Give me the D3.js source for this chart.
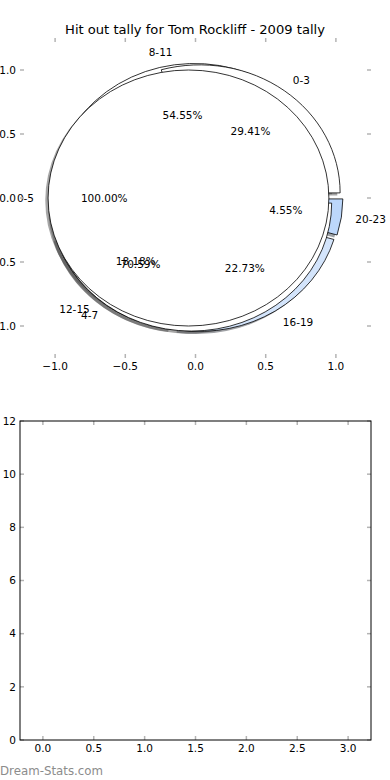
<!DOCTYPE html>
<html><head><meta charset="utf-8">
<script src="https://cdn.jsdelivr.net/npm/d3@7"></script>
<style>
body{margin:0;background:#fff;}
svg{display:block;font-family:"DejaVu Sans",sans-serif;}
</style></head><body>
<script>
// ---- data ----
const titleText = "Hit out tally for Tom Rockliff - 2009 tally";
// three pies overlaid on the same axes (drawn in this order: C, B, A)
const pieCLabels = ["8-11", "12-15", "16-19", "20-23"];
const pieCValues = [12, 4, 5, 1];
const pieCColors = ["#ffffff", "#ffffff", "#d3e4fb", "#bcd7fb"];
const pieBLabels = ["0-3", "4-7"];
const pieBValues = [5, 12];
const pieBColors = ["#ffffff", "#ffffff"];
const pieALabels = ["0-5"];
const pieAValues = [1];
const pieAColors = ["#ffffff"];
const explodeAmount = 0.05;
const pieTicks = [-1.0, -0.5, 0.0, 0.5, 1.0];
const barCats = [0, 1, 2, 3];
const barValues = [0, 0, 0, 0];
const barXTicks = [0, 0.5, 1, 1.5, 2, 2.5, 3];
const barYTicks = [0, 2, 4, 6, 8, 10, 12];

const W = 390, H = 780;
const svg = d3.select("body").append("svg").attr("width", W).attr("height", H);

const L = 20, R = 371;
// top axes
const xP = d3.scaleLinear().domain([-1.25, 1.25]).range([L, R]);
const yP = d3.scaleLinear().domain([-1.25, 1.25]).range([358, 38]);
const kx = xP(1) - xP(0), ky = yP(0) - yP(1);

svg.append("text").attr("x", 195).attr("y", 34).attr("text-anchor", "middle")
  .attr("font-size", 13.1).attr("fill", "#000").text(titleText);

const pies = [
  {labels: pieCLabels, values: pieCValues, colors: pieCColors},
  {labels: pieBLabels, values: pieBValues, colors: pieBColors},
  {labels: pieALabels, values: pieAValues, colors: pieAColors}
];
const arc = d3.arc().innerRadius(0).outerRadius(1);
const fmt = d3.format(".2f");
const wedges = [];
pies.forEach(p => {
  const total = d3.sum(p.values);
  let th = 0;
  p.values.forEach((v, i) => {
    const t1 = th, t2 = th + 2 * Math.PI * v / total;
    th = t2;
    const tm = (t1 + t2) / 2;
    const cx = explodeAmount * Math.cos(tm), cy = explodeAmount * Math.sin(tm);
    wedges.push({t1, t2, tm, cx, cy, color: p.colors[i], label: p.labels[i], pct: fmt(100 * v / total) + "%"});
  });
});
const gS = svg.append("g"), gW = svg.append("g"), gT = svg.append("g");
const d3arcPath = w => arc({startAngle: Math.PI / 2 - w.t2, endAngle: Math.PI / 2 - w.t1});
// shadows
wedges.forEach(w => {
  const c = d3.rgb(w.color);
  gS.append("path").attr("d", d3arcPath(w))
    .attr("transform", `translate(${xP(w.cx - 0.02)},${yP(w.cy - 0.02)}) scale(${kx},${ky})`)
    .attr("fill", d3.rgb(c.r * 0.3, c.g * 0.3, c.b * 0.3)).attr("fill-opacity", 0.5).attr("stroke", "none");
});
// wedges
wedges.forEach(w => {
  gW.append("path").attr("d", d3arcPath(w))
    .attr("transform", `translate(${xP(w.cx)},${yP(w.cy)}) scale(${kx},${ky})`)
    .attr("fill", w.color).attr("stroke", "#000").attr("stroke-width", 0.8)
    .attr("vector-effect", "non-scaling-stroke").attr("stroke-linejoin", "round");
});
// labels
wedges.forEach(w => {
  const lx = w.cx + 1.1 * Math.cos(w.tm), ly = w.cy + 1.1 * Math.sin(w.tm);
  gT.append("text").attr("x", xP(lx)).attr("y", yP(ly)).attr("dy", "0.35em")
    .attr("text-anchor", lx > 0 ? "start" : "end").attr("font-size", 10.5).text(w.label);
  const px = w.cx + 0.6 * Math.cos(w.tm), py = w.cy + 0.6 * Math.sin(w.tm);
  gT.append("text").attr("x", xP(px)).attr("y", yP(py)).attr("dy", "0.35em")
    .attr("text-anchor", "middle").attr("font-size", 10.5).text(w.pct);
});

function ticks(xs, ys, x0, x1, y0, y1, xf, yf) {
  const g = svg.append("g");
  const tc = "#b4b4b4", tl = 4;
  xf.ticks.forEach(t => {
    const X = xs(t);
    g.append("line").attr("x1", X).attr("x2", X).attr("y1", y0).attr("y2", y0 + tl).attr("stroke", tc).attr("stroke-width", 1.5);
    g.append("line").attr("x1", X).attr("x2", X).attr("y1", y1).attr("y2", y1 - tl).attr("stroke", tc).attr("stroke-width", 1.5);
    g.append("text").attr("x", X).attr("y", y1 + 4).attr("dy", "0.75em").attr("text-anchor", "middle")
      .attr("font-size", 10.5).text(xf.f(t));
  });
  yf.ticks.forEach(t => {
    const Y = ys(t);
    g.append("line").attr("x1", x0).attr("x2", x0 + tl).attr("y1", Y).attr("y2", Y).attr("stroke", tc).attr("stroke-width", 1.5);
    g.append("line").attr("x1", x1).attr("x2", x1 - tl).attr("y1", Y).attr("y2", Y).attr("stroke", tc).attr("stroke-width", 1.5);
    g.append("text").attr("x", x0 - 4).attr("y", Y).attr("dy", "0.35em").attr("text-anchor", "end")
      .attr("font-size", 10.5).text(yf.f(t));
  });
}
const minus = s => s.replace("-", "\u2212");
ticks(xP, yP, L, R, 38, 358,
  {ticks: pieTicks, f: t => minus(d3.format(".1f")(t))},
  {ticks: pieTicks, f: t => minus(d3.format(".1f")(t))});

// bottom axes
const xB = d3.scaleLinear().domain([-0.225, 3.225]).range([L, R]);
const yB = d3.scaleLinear().domain([0, 12]).range([740, 421]);
svg.append("g").selectAll("rect").data(barCats).join("rect")
  .attr("x", d => xB(d - 0.225)).attr("width", xB(0.45) - xB(0))
  .attr("y", (d, i) => yB(barValues[i])).attr("height", (d, i) => yB(0) - yB(barValues[i]))
  .attr("fill", "#b0c4de");
ticks(xB, yB, L, R, 421, 740,
  {ticks: barXTicks, f: t => d3.format(".1f")(t)},
  {ticks: barYTicks, f: t => d3.format("d")(t)});
svg.append("rect").attr("x", L).attr("y", 421).attr("width", R - L).attr("height", 740 - 421)
  .attr("fill", "none").attr("stroke", "#000").attr("stroke-width", 1);

svg.append("text").attr("x", 0).attr("y", 775).attr("font-size", 11.8).attr("font-weight", "normal")
  .attr("fill", "#8c8c8c").text("Dream-Stats.com");
</script>
</body></html>
